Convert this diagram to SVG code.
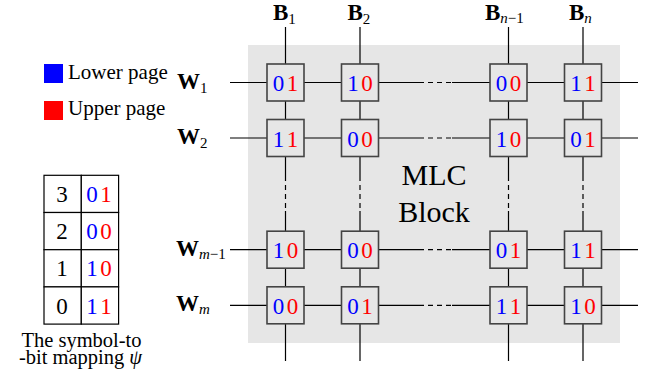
<svg xmlns="http://www.w3.org/2000/svg" width="649" height="375" viewBox="0 0 649 375">
<style>
  text { font-family: "Liberation Serif", "DejaVu Serif", "Noto Serif", serif; fill: #000; }
  .lbl { font-size: 23px; font-weight: bold; }
  .sub { font-size: 15px; font-weight: normal; }
  .it { font-style: italic; }
  .bit { font-size: 23px; text-anchor: middle; }
  .lo { fill: #0000ff; }
  .hi { fill: #ff0000; }
  .wire { stroke: #000; stroke-width: 1.2; fill: none; }
  .dash { stroke: #000; stroke-width: 1.2; fill: none; stroke-dasharray: 5 4; }
  .cell { fill: #e6e6e6; stroke: #444; stroke-width: 1.6; }
  .tab { fill: #fff; stroke: #000; stroke-width: 1.2; }
  .leg { font-size: 21px; }
</style>

<rect id="block" x="248" y="45" width="372" height="298" fill="#e6e6e6"/>

<g id="connectors">
  <path class="wire" d="M230 82.5H419 M452 82.5H638"/>
  <path class="dash" d="M419 82.5H452"/>
  <path class="wire" d="M230 138H419 M452 138H638"/>
  <path class="dash" d="M419 138H452"/>
  <path class="wire" d="M230 249.7H419 M452 249.7H638"/>
  <path class="dash" d="M419 249.7H452"/>
  <path class="wire" d="M230 305.3H419 M452 305.3H638"/>
  <path class="dash" d="M419 305.3H452"/>
  <path class="wire" d="M285.5 27V176 M285.5 211V361"/>
  <path class="dash" d="M285.5 176V211"/>
  <path class="wire" d="M360 27V176 M360 211V361"/>
  <path class="dash" d="M360 176V211"/>
  <path class="wire" d="M508.5 27V176 M508.5 211V361"/>
  <path class="dash" d="M508.5 176V211"/>
  <path class="wire" d="M583 27V176 M583 211V361"/>
  <path class="dash" d="M583 176V211"/>
</g>

<g id="bitline-labels">
  <text class="lbl" x="273" y="20">B<tspan class="sub" dy="4">1</tspan></text>
  <text class="lbl" x="347.5" y="20">B<tspan class="sub" dy="4">2</tspan></text>
  <text class="lbl" x="485" y="20">B<tspan class="sub" dy="3"><tspan class="it">n</tspan>−1</tspan></text>
  <text class="lbl" x="569" y="20">B<tspan class="sub it" dy="3">n</tspan></text>
</g>

<g id="wordline-labels">
  <text class="lbl" x="177" y="88.5">W<tspan class="sub" dy="4">1</tspan></text>
  <text class="lbl" x="177" y="144">W<tspan class="sub" dy="4">2</tspan></text>
  <text class="lbl" x="176" y="255.7">W<tspan class="sub" dy="3"><tspan class="it">m</tspan>−1</tspan></text>
  <text class="lbl" x="176" y="311.3">W<tspan class="sub it" dy="3">m</tspan></text>
</g>

<text id="mlc-label" x="434" y="185" font-size="30" text-anchor="middle">MLC<tspan x="434" dy="37">Block</tspan></text>

<g id="c11"><rect class="cell" x="267" y="64" width="37" height="37"/><text class="bit lo" x="278.5" y="91">0</text><text class="bit hi" x="292.5" y="91">1</text></g>
<g id="c12"><rect class="cell" x="341.5" y="64" width="37" height="37"/><text class="bit lo" x="353" y="91">1</text><text class="bit hi" x="367" y="91">0</text></g>
<g id="c13"><rect class="cell" x="490" y="64" width="37" height="37"/><text class="bit lo" x="501.5" y="91">0</text><text class="bit hi" x="515.5" y="91">0</text></g>
<g id="c14"><rect class="cell" x="564.5" y="64" width="37" height="37"/><text class="bit lo" x="576" y="91">1</text><text class="bit hi" x="590" y="91">1</text></g>
<g id="c21"><rect class="cell" x="267" y="119.5" width="37" height="37"/><text class="bit lo" x="278.5" y="146.5">1</text><text class="bit hi" x="292.5" y="146.5">1</text></g>
<g id="c22"><rect class="cell" x="341.5" y="119.5" width="37" height="37"/><text class="bit lo" x="353" y="146.5">0</text><text class="bit hi" x="367" y="146.5">0</text></g>
<g id="c23"><rect class="cell" x="490" y="119.5" width="37" height="37"/><text class="bit lo" x="501.5" y="146.5">1</text><text class="bit hi" x="515.5" y="146.5">0</text></g>
<g id="c24"><rect class="cell" x="564.5" y="119.5" width="37" height="37"/><text class="bit lo" x="576" y="146.5">0</text><text class="bit hi" x="590" y="146.5">1</text></g>
<g id="c31"><rect class="cell" x="267" y="231.2" width="37" height="37"/><text class="bit lo" x="278.5" y="258.2">1</text><text class="bit hi" x="292.5" y="258.2">0</text></g>
<g id="c32"><rect class="cell" x="341.5" y="231.2" width="37" height="37"/><text class="bit lo" x="353" y="258.2">0</text><text class="bit hi" x="367" y="258.2">0</text></g>
<g id="c33"><rect class="cell" x="490" y="231.2" width="37" height="37"/><text class="bit lo" x="501.5" y="258.2">0</text><text class="bit hi" x="515.5" y="258.2">1</text></g>
<g id="c34"><rect class="cell" x="564.5" y="231.2" width="37" height="37"/><text class="bit lo" x="576" y="258.2">1</text><text class="bit hi" x="590" y="258.2">1</text></g>
<g id="c41"><rect class="cell" x="267" y="286.8" width="37" height="37"/><text class="bit lo" x="278.5" y="313.8">0</text><text class="bit hi" x="292.5" y="313.8">0</text></g>
<g id="c42"><rect class="cell" x="341.5" y="286.8" width="37" height="37"/><text class="bit lo" x="353" y="313.8">0</text><text class="bit hi" x="367" y="313.8">1</text></g>
<g id="c43"><rect class="cell" x="490" y="286.8" width="37" height="37"/><text class="bit lo" x="501.5" y="313.8">1</text><text class="bit hi" x="515.5" y="313.8">1</text></g>
<g id="c44"><rect class="cell" x="564.5" y="286.8" width="37" height="37"/><text class="bit lo" x="576" y="313.8">1</text><text class="bit hi" x="590" y="313.8">0</text></g>

<g id="legend">
  <rect x="44" y="64" width="19" height="19" fill="#0000ff"/>
  <text class="leg" x="68" y="78.5">Lower page</text>
  <rect x="44" y="101" width="19" height="19" fill="#ff0000"/>
  <text class="leg" x="68" y="115">Upper page</text>
</g>

<g id="mapping-table">
  <rect class="tab" x="44" y="175.3" width="37.3" height="37.2"/>
  <rect class="tab" x="81.3" y="175.3" width="37.3" height="37.2"/>
  <rect class="tab" x="44" y="212.5" width="37.3" height="37.2"/>
  <rect class="tab" x="81.3" y="212.5" width="37.3" height="37.2"/>
  <rect class="tab" x="44" y="249.7" width="37.3" height="37.2"/>
  <rect class="tab" x="81.3" y="249.7" width="37.3" height="37.2"/>
  <rect class="tab" x="44" y="286.9" width="37.3" height="37.2"/>
  <rect class="tab" x="81.3" y="286.9" width="37.3" height="37.2"/>
  <text class="bit" x="62" y="202">3</text>
  <text class="bit lo" x="92" y="202">0</text><text class="bit hi" x="106" y="202">1</text>
  <text class="bit" x="62" y="239.2">2</text>
  <text class="bit lo" x="92" y="239.2">0</text><text class="bit hi" x="106" y="239.2">0</text>
  <text class="bit" x="62" y="276.4">1</text>
  <text class="bit lo" x="92" y="276.4">1</text><text class="bit hi" x="106" y="276.4">0</text>
  <text class="bit" x="62" y="313.6">0</text>
  <text class="bit lo" x="92" y="313.6">1</text><text class="bit hi" x="106" y="313.6">1</text>
</g>

<text id="caption" x="81.5" y="346.5" font-size="20.5" text-anchor="middle">The symbol-to<tspan x="80.5" dy="17.5">-bit mapping <tspan font-style="italic">ψ</tspan></tspan></text>
</svg>
